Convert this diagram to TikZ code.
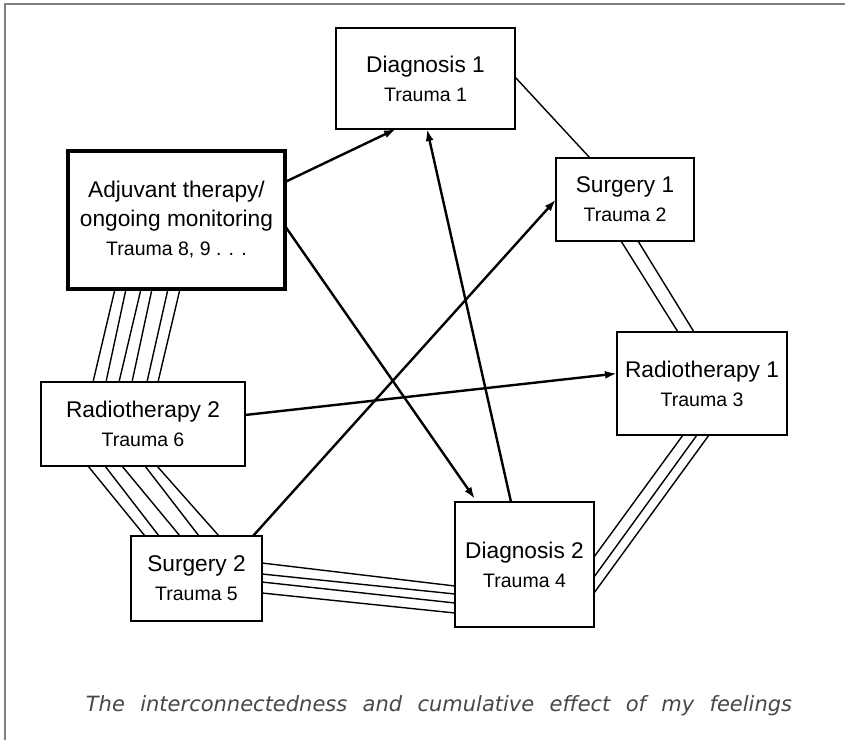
\documentclass[tikz,border=0pt]{standalone}
\usepackage{fontspec}
\setmainfont{Liberation Sans}
\newfontfamily\capfont[WordSpace=2.3]{DejaVu Sans}
\newcommand{\traumafont}{\fontsize{19.5}{29}\selectfont}
\usetikzlibrary{positioning, arrows.meta}
\definecolor{framegray}{HTML}{7F7F7F}
\definecolor{captiongray}{HTML}{474747}

\begin{document}
\begin{tikzpicture}[x=1pt, y=-1pt,
    stagebox/.style={shape=rectangle, draw=black, inner sep=0pt, outer sep=0pt, align=center, font=\fontsize{22.7}{29}\selectfont},
    arrowline/.style={->, line width=2.4},
    strand/.style={line width=1.4},
    >={Latex[length=12pt, width=8pt]}]
        \useasboundingbox (0,0) rectangle (845,740);
        \draw[framegray, line width=2] (5,740) -- (5,4) -- (845,4);

        \node[stagebox, minimum width=179, minimum height=101, line width=1.1] (diag1) at (425.5,78.5) {Diagnosis 1\\{\traumafont Trauma 1}};
        \node[stagebox, minimum width=138, minimum height=83, line width=1.5] (surg1) at (625,199.5) {Surgery 1\\{\traumafont Trauma 2}};
        \node[stagebox, minimum width=170, minimum height=103, line width=1.7] (radio1) at (702,383.5) {Radiotherapy 1\\{\traumafont Trauma 3}};
        \node[stagebox, minimum width=139, minimum height=125, line width=2] (diag2) at (524.5,564.5) {Diagnosis 2\\{\traumafont Trauma 4}};
        \node[stagebox, minimum width=131, minimum height=85, line width=2.2] (surg2) at (196.5,578.5) {Surgery 2\\{\traumafont Trauma 5}};
        \node[stagebox, minimum width=204, minimum height=84, line width=2.5] (radio2) at (143,424) {Radiotherapy 2\\{\traumafont Trauma 6}};
        \node[stagebox, minimum width=217, minimum height=138, line width=3.5] (adjuv) at (176.5,220) {Adjuvant therapy/\\ongoing monitoring\\{\traumafont Trauma 8, 9 . . .}};

        % single, double, triple ... links
        \draw[strand] ([yshift=-49]diag1.north east) -- ([xshift=34]surg1.north west);
        \foreach \a/\b in {65/61, 82/77}
            \draw[strand] ([xshift=\a]surg1.south west) -- ([xshift=\b]radio1.north west);
        \foreach \a/\b in {66/-55, 80/-75, 92/-91}
            \draw[strand] ([xshift=\a]radio1.south west) -- ([yshift=\b]diag2.north east);
        \foreach \a/\b in {-27/-84, -38/-92, -46/-101, -57/-111}
            \draw[strand] ([yshift=\a]surg2.north east) -- ([yshift=\b]diag2.north west);
        \foreach \a/\b in {47/14, 64/28, 81/49, 104/68, 116/88}
            \draw[strand] ([xshift=\a]radio2.south west) -- ([xshift=\b]surg2.north west);
        \foreach \a/\b in {47/52, 58/65, 73/78, 84/91, 100/106, 112/117}
            \draw[strand] ([xshift=\a]adjuv.south west) -- ([xshift=\b]radio2.north west);

        % arrows
        \draw[arrowline] ([yshift=-31]adjuv.north east) -- ([xshift=60]diag1.south west);
        \draw[arrowline] ([yshift=-75]adjuv.north east) -- ([xshift=20,yshift=3]diag2.north west);
        \draw[arrowline] ([xshift=56]diag2.north west) -- ([xshift=91]diag1.south west);
        \draw[arrowline] ([xshift=-9]surg2.north east) -- (surg1.west);
        \draw[arrowline] ([yshift=9]radio2.east) -- ([yshift=10]radio1.west);

        \node[font=\capfont\itshape\fontsize{21}{25}\selectfont, text=captiongray] (caption) at (439,706) {The interconnectedness and cumulative effect of my feelings};
\end{tikzpicture}
\end{document}
